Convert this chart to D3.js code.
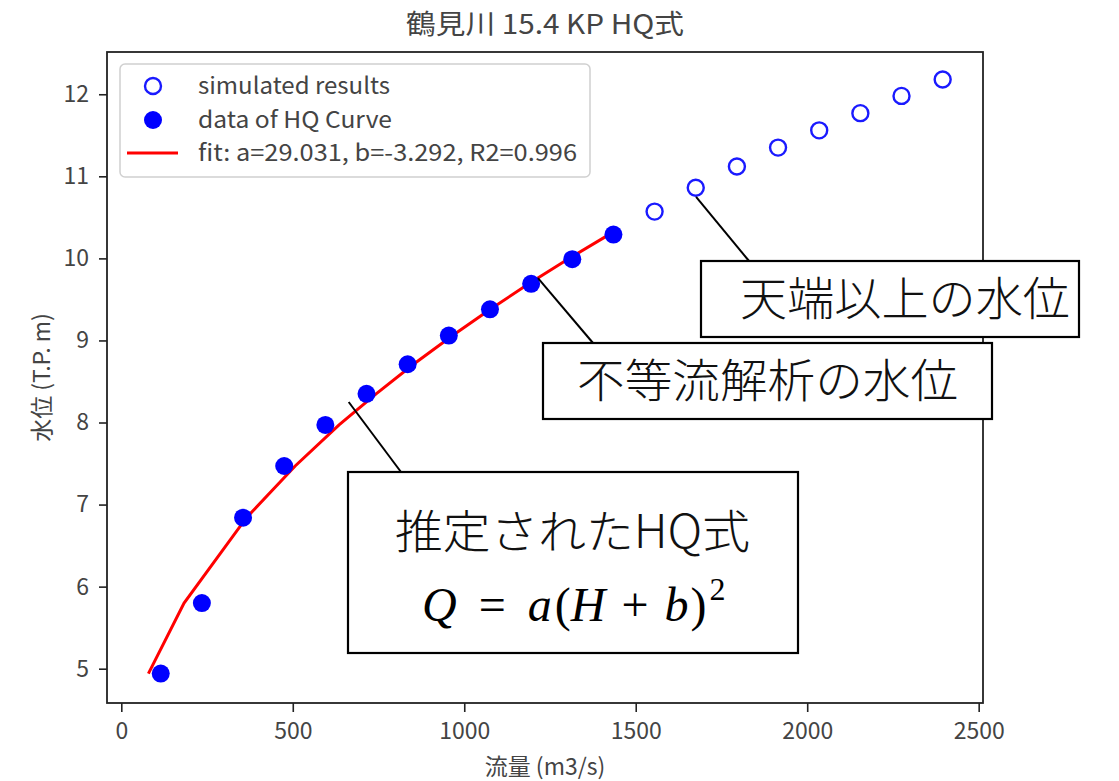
<!DOCTYPE html>
<html><head><meta charset="utf-8">
<script src="https://cdn.jsdelivr.net/npm/d3@7"></script>
<style>body{margin:0;background:#fff}svg{display:block}</style>
</head><body><svg id="c" width="1119" height="781"></svg>
<script>
// ---- data ----
const title = "鶴見川 15.4 KP HQ式";
const xLabel = "流量 (m3/s)";
const yLabel = "水位 (T.P. m)";
const xTicks = [0, 500, 1000, 1500, 2000, 2500];
const yTicks = [5, 6, 7, 8, 9, 10, 11, 12];
const hqQ = [115, 235, 355, 475, 595, 715, 835, 955, 1075, 1195, 1315, 1435];
const hqH = [4.94, 5.80, 6.84, 7.47, 7.97, 8.35, 8.71, 9.06, 9.38, 9.69, 9.99, 10.29];
const simQ = [1555, 1675, 1795, 1915, 2035, 2155, 2275, 2395];
const simH = [10.57, 10.86, 11.12, 11.35, 11.56, 11.77, 11.98, 12.18];
const fitQ = [79, 183, 365, 507, 635, 743, 852, 966, 1076, 1188, 1302, 1422];
const fitH = [4.94, 5.80, 6.84, 7.47, 7.97, 8.35, 8.71, 9.06, 9.38, 9.69, 9.99, 10.29];
const legendLabels = ["simulated results", "data of HQ Curve", "fit: a=29.031, b=-3.292, R2=0.996"];
const noteTexts = ["天端以上の水位", "不等流解析の水位", "推定されたHQ式"];
const noteAnchorQ = [1676, 1215, 663];
const noteAnchorH = [10.75, 9.76, 8.25];

// ---- layout ----
const svg = d3.select("#c");
const L = 107, R = 983, T = 52, B = 703;
const x = d3.scaleLinear().domain([-41.7, 2512.6]).range([L, R]);
const y = d3.scaleLinear().domain([4.582, 12.515]).range([B, T]);
const txt = "#444";
const font = "'Noto Sans CJK JP','Noto Sans',sans-serif";

// title
svg.append("text").attr("x", (L + R) / 2).attr("y", 34).attr("text-anchor", "middle")
  .attr("font-family", font).attr("font-size", 27).attr("fill", txt)
  .attr("textLength", 278).attr("lengthAdjust", "spacingAndGlyphs").text(title);

// axes
const gx = svg.append("g").attr("transform", `translate(0,${B})`)
  .call(d3.axisBottom(x).tickValues(xTicks).tickSize(9).tickPadding(11).tickFormat(d3.format("d")));
const gy = svg.append("g").attr("transform", `translate(${L},0)`)
  .call(d3.axisLeft(y).tickValues(yTicks).tickSize(8).tickPadding(10).tickFormat(d3.format("d")));
[gx, gy].forEach(g => {
  g.select(".domain").remove();
  g.selectAll("line").attr("stroke", "#222").attr("stroke-width", 1.6);
  g.selectAll("text").attr("font-family", font).attr("font-size", 23).attr("fill", txt);
});

svg.append("text").attr("x", (L + R) / 2).attr("y", 775).attr("text-anchor", "middle")
  .attr("font-family", font).attr("font-size", 23).attr("fill", txt).text(xLabel);
svg.append("text").attr("transform", `translate(50,${(T + B) / 2}) rotate(-90)`).attr("text-anchor", "middle")
  .attr("font-family", font).attr("font-size", 23).attr("fill", txt).text(yLabel);

// fit line
const fitData = fitQ.map((q, i) => [q, fitH[i]]);
svg.append("path").datum(fitData)
  .attr("d", d3.line().x(d => x(d[0])).y(d => y(d[1])))
  .attr("fill", "none").attr("stroke", "#ff0000").attr("stroke-width", 3);

// HQ data points
svg.append("g").selectAll("circle").data(hqQ.map((q, i) => [q, hqH[i]])).join("circle")
  .attr("cx", d => x(d[0])).attr("cy", d => y(d[1])).attr("r", 9).attr("fill", "#0000ff");

// simulated points
svg.append("g").selectAll("circle").data(simQ.map((q, i) => [q, simH[i]])).join("circle")
  .attr("cx", d => x(d[0])).attr("cy", d => y(d[1])).attr("r", 8)
  .attr("fill", "none").attr("stroke", "#1a1aff").attr("stroke-width", 2.4);

// frame
svg.append("rect").attr("x", L).attr("y", T).attr("width", R - L).attr("height", B - T)
  .attr("fill", "none").attr("stroke", "#222").attr("stroke-width", 1.8);

// legend
const lg = svg.append("g");
lg.append("rect").attr("x", 120).attr("y", 64).attr("width", 470).attr("height", 113).attr("rx", 5)
  .attr("fill", "#fff").attr("fill-opacity", 0.8).attr("stroke", "#d0d0d0").attr("stroke-width", 1.5);
const ly = [86, 120, 153];
const lw = [192, 194, 379];
lg.append("circle").attr("cx", 153).attr("cy", ly[0]).attr("r", 8).attr("fill", "none")
  .attr("stroke", "#1a1aff").attr("stroke-width", 2.4);
lg.append("circle").attr("cx", 153).attr("cy", ly[1]).attr("r", 9).attr("fill", "#0000ff");
lg.append("line").attr("x1", 127).attr("x2", 178).attr("y1", ly[2]).attr("y2", ly[2])
  .attr("stroke", "#ff0000").attr("stroke-width", 3);
legendLabels.forEach((t, i) => {
  lg.append("text").attr("x", 198).attr("y", ly[i]).attr("dy", "0.36em")
    .attr("font-family", font).attr("font-size", 23).attr("fill", txt)
    .attr("textLength", lw[i]).attr("lengthAdjust", "spacingAndGlyphs").text(t);
});

// annotations
const boxes = [
  {bx: 701, by: 261, bw: 378, bh: 76, tx: 740, ty: 298, ex: 749, ey: 261, tw: 330},
  {bx: 543, by: 343, bw: 449, bh: 76, tx: 577, ty: 380, ex: 593, ey: 343, tw: 381},
  {bx: 348, by: 472, bw: 450, bh: 181, tx: 395, ty: 531, ex: 401, ey: 472, tw: 355}
];
const ng = svg.append("g");
boxes.forEach((b, i) => {
  ng.append("line").attr("x1", x(noteAnchorQ[i])).attr("y1", y(noteAnchorH[i]))
    .attr("x2", b.ex).attr("y2", b.ey).attr("stroke", "#000").attr("stroke-width", 2);
});
boxes.forEach((b, i) => {
  ng.append("rect").attr("x", b.bx).attr("y", b.by).attr("width", b.bw).attr("height", b.bh)
    .attr("fill", "#fff").attr("stroke", "#000").attr("stroke-width", 2.2);
  ng.append("text").attr("x", b.tx).attr("y", b.ty).attr("dy", "0.36em")
    .attr("font-family", font).attr("font-weight", 300).attr("font-size", 46).attr("fill", "#111")
    .attr("textLength", b.tw).attr("lengthAdjust", "spacingAndGlyphs")
    .text(noteTexts[i]);
});
// formula
const ft = ng.append("text").attr("x", 422).attr("y", 604).attr("dy", "0.35em")
  .attr("font-family", "'Liberation Serif','DejaVu Serif',serif").attr("font-size", 48).attr("fill", "#000");
const parts = [["Q", true, 0], ["=", false, 22], ["a", true, 22], ["(", false, 3], ["H", true, 0], ["+", false, 16], ["b", true, 16], [")", false, 2]];
parts.forEach(p => ft.append("tspan").attr("dx", p[2]).attr("font-style", p[1] ? "italic" : "normal").text(p[0]));
ft.append("tspan").attr("font-size", 32).attr("dx", 3).attr("dy", "-0.65em").text("2");
</script></body></html>
